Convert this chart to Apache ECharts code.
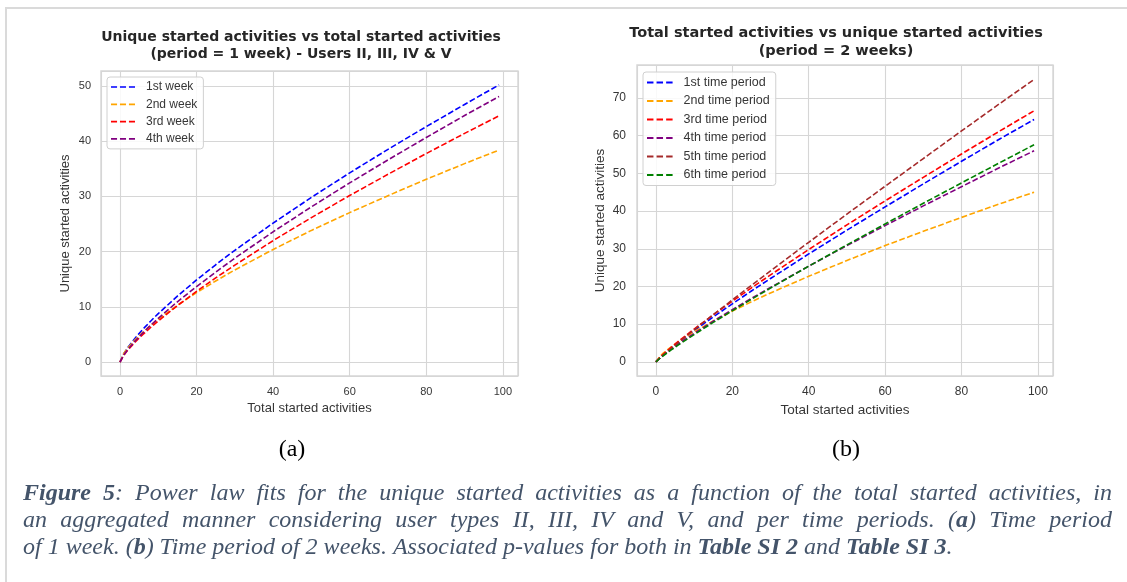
<!DOCTYPE html>
<html>
<head>
<meta charset="utf-8">
<script src="https://cdn.jsdelivr.net/npm/echarts@6/dist/echarts.min.js"></script>
<style>
html,body{margin:0;padding:0;background:#fff;}
#chart{width:1127px;height:582px;}
</style>
</head>
<body>
<div id="chart"></div>
<script>
// ---------- DATA ----------
const xValues = [0, 1, 2, 4, 6, 8, 10, 15, 20, 25, 30, 40, 50, 60, 70, 80, 90, 99];

// (a) period = 1 week
const weekNames = ['1st week', '2nd week', '3rd week', '4th week'];
const week1 = [0, 1.53, 2.58, 4.38, 5.96, 7.41, 8.78, 11.95, 14.88, 17.63, 20.24, 25.18, 29.83, 34.27, 38.53, 42.64, 46.65, 50.2];
const week2 = [0, 1.55, 2.52, 4.09, 5.43, 6.63, 7.75, 10.29, 12.58, 14.70, 16.69, 20.40, 23.85, 27.07, 30.13, 33.10, 35.94, 38.4];
const week3 = [0, 1.24, 2.13, 3.65, 5.01, 6.27, 7.46, 10.23, 12.81, 15.25, 17.57, 22.00, 26.17, 30.17, 34.01, 37.77, 41.41, 44.6];
const week4 = [0, 1.30, 2.24, 3.86, 5.31, 6.66, 7.94, 10.92, 13.69, 16.30, 18.82, 23.60, 28.12, 32.45, 36.62, 40.68, 44.65, 48.1];

// (b) period = 2 weeks
const periodNames = ['1st time period', '2nd time period', '3rd time period', '4th time period', '5th time period', '6th time period'];
const period1 = [0, 1.06, 1.97, 3.65, 5.25, 6.79, 8.29, 11.91, 15.40, 18.81, 22.12, 28.63, 34.94, 41.11, 47.20, 53.21, 59.12, 64.3];
const period2 = [0, 1.40, 2.37, 3.99, 5.42, 6.74, 7.98, 10.84, 13.46, 15.93, 18.28, 22.71, 26.89, 30.84, 34.63, 38.32, 41.92, 45.0];
const period3 = [0, 1.13, 2.08, 3.86, 5.53, 7.13, 8.70, 12.47, 16.10, 19.62, 23.07, 29.80, 36.33, 42.70, 48.95, 55.14, 61.23, 66.6];
const period4 = [0, 1.01, 1.86, 3.40, 4.84, 6.23, 7.57, 10.78, 13.87, 16.84, 19.74, 25.40, 30.85, 36.15, 41.37, 46.47, 51.55, 56.0];
const period5 = [0, 0.96, 1.85, 3.56, 5.24, 6.88, 8.52, 12.51, 16.43, 20.31, 24.15, 31.72, 39.20, 46.58, 53.93, 61.25, 68.5, 74.9];
const period6 = [0, 0.90, 1.69, 3.16, 4.57, 5.92, 7.25, 10.46, 13.56, 16.60, 19.57, 25.38, 31.03, 36.59, 42.06, 47.47, 52.82, 57.6];

const xTickLabels = [0, 20, 40, 60, 80, 100];
const yTickLabelsA = [0, 10, 20, 30, 40, 50];
const yTickLabelsB = [0, 10, 20, 30, 40, 50, 60, 70];

const weekColors = ['#0000ff', '#ffa500', '#ff0000', '#800080'];
const periodColors = ['#0000ff', '#ffa500', '#ff0000', '#800080', '#a52a2a', '#008000'];

// ---------- STYLE ----------
const SANS = '"Liberation Sans", Arial, sans-serif';
const GRIDC = '#d6d6d6';
const TXT = '#363636';
const DASH = [5.8, 2.5];
const dashIcon = 'path://M0,0h6v1.7h-6z M8.9,0h6v1.7h-6z M17.8,0h6v1.7h-6z';

function pairs(ys) { return xValues.map((x, i) => [x, ys[i]]); }
function tickFmt(list) {
  return v => list.some(t => Math.abs(t - v) < 1e-6) ? String(Math.round(v)) : '';
}

function mkSeries(name, ys, color, gi) {
  return {
    name, type: 'line', xAxisIndex: gi, yAxisIndex: gi,
    data: pairs(ys), showSymbol: false, symbol: 'none',
    smooth: false,
    lineStyle: { color, width: 1.6, type: DASH, join: 'round' },
    itemStyle: { color },
    emphasis: { disabled: true }, silent: true, animation: false
  };
}

const series = [];
[week1, week2, week3, week4].forEach((ys, i) => series.push(mkSeries(weekNames[i], ys, weekColors[i], 0)));
[period1, period2, period3, period4, period5, period6].forEach((ys, i) => series.push(mkSeries(periodNames[i], ys, periodColors[i], 1)));

function xAxisCfg(gi, fs, nameFs, gap) {
  return {
    gridIndex: gi, type: 'value', min: -4.95, max: 103.95,
    splitNumber: 5, minInterval: 20, maxInterval: 20,
    axisLine: { show: false }, axisTick: { show: false },
    splitLine: { show: true, lineStyle: { color: GRIDC, width: 1.1 } },
    axisLabel: { fontSize: fs, color: TXT, fontFamily: SANS, margin: 10, formatter: tickFmt(xTickLabels) },
    name: 'Total started activities', nameLocation: 'middle', nameGap: gap,
    nameTextStyle: { fontSize: nameFs, color: TXT, fontFamily: SANS }
  };
}
function yAxisCfg(gi, min, max, ticks, fs, nameFs, gap, margin) {
  return {
    gridIndex: gi, type: 'value', min, max,
    splitNumber: 8, minInterval: 10, maxInterval: 10,
    axisLine: { show: false }, axisTick: { show: false },
    splitLine: { show: true, lineStyle: { color: GRIDC, width: 1.1 } },
    axisLabel: { fontSize: fs, color: TXT, fontFamily: SANS, margin, formatter: tickFmt(ticks) },
    name: 'Unique started activities', nameLocation: 'middle', nameGap: gap, nameRotate: 90,
    nameTextStyle: { fontSize: nameFs, color: TXT, fontFamily: SANS }
  };
}

function legendCfg(names, left, top, fs, lh, gap, iw, pad) {
  return {
    data: names.map(n => ({ name: n, icon: dashIcon })),
    orient: 'vertical', left, top, selectedMode: false,
    itemWidth: iw, itemHeight: 8, itemGap: gap,
    padding: pad,
    backgroundColor: 'rgba(255,255,255,0.85)', borderColor: '#d0d0d0', borderWidth: 1, borderRadius: 3,
    itemStyle: { borderWidth: 0 },
    textStyle: { fontSize: fs, color: TXT, fontFamily: SANS, lineHeight: lh, padding: [0, 0, 0, 6] }
  };
}

// ---------- CAPTION LAYOUT ----------
const CAPC = '#44546a';
const SERIF = '"Liberation Serif", "Times New Roman", serif';
const capFs = 24;
const capLines = [
  { y: 494, justify: true, segs: [['Figure 5', 'b'], [': Power law fits for the unique started activities as a function of the total started activities, in', 'i']] },
  { y: 521, justify: true, segs: [['an aggregated manner considering user types II, III, IV and V, and per time periods. (', 'i'], ['a', 'b'], [') Time period', 'i']] },
  { y: 548, justify: false, segs: [['of 1 week. (', 'i'], ['b', 'b'], [') Time period of 2 weeks. Associated p-values for both in ', 'i'], ['Table SI 2', 'b'], [' and ', 'i'], ['Table SI 3', 'b'], ['.', 'i']] }
];
const mctx = document.createElement('canvas').getContext('2d');
function fontOf(s) { return (s === 'b' ? 'italic bold ' : 'italic ') + capFs + 'px ' + SERIF; }
function measure(t, s) { mctx.font = fontOf(s); return mctx.measureText(t).width; }
function layoutCaption(x0, x1) {
  const els = [];
  capLines.forEach(line => {
    const words = [[]];
    line.segs.forEach(([t, s]) => {
      t.split(' ').forEach((p, k) => {
        if (k > 0) words.push([]);
        if (p) words[words.length - 1].push({ t: p, s });
      });
    });
    const ws = words.filter(w => w.length);
    const widths = ws.map(w => w.reduce((a, p) => a + measure(p.t, p.s), 0));
    const total = widths.reduce((a, b) => a + b, 0);
    const natural = measure(' ', 'i');
    const sp = line.justify ? Math.max(natural * 0.8, (x1 - x0 - total) / (ws.length - 1)) : natural;
    let x = x0;
    ws.forEach((w) => {
      w.forEach(p => {
        els.push({ type: 'text', x, y: line.y, silent: true,
          style: { text: p.t, font: fontOf(p.s), fill: CAPC, textVerticalAlign: 'middle' } });
        x += measure(p.t, p.s);
      });
      x += sp;
    });
  });
  return els;
}

const graphics = [
  { type: 'line', silent: true, shape: { x1: 5, y1: 8, x2: 1127, y2: 8 }, style: { stroke: '#dadada', lineWidth: 2 } },
  { type: 'line', silent: true, shape: { x1: 6, y1: 8, x2: 6, y2: 582 }, style: { stroke: '#dadada', lineWidth: 2 } },
  { type: 'text', x: 301, y: 46, silent: true,
    style: { text: 'Unique started activities vs total started activities\n(period = 1 week) - Users II, III, IV & V',
      font: 'bold 14px "DejaVu Sans", sans-serif', fill: '#262626', textAlign: 'center', textVerticalAlign: 'middle', lineHeight: 17.7 } },
  { type: 'text', x: 836, y: 42.5, silent: true,
    style: { text: 'Total started activities vs unique started activities\n(period = 2 weeks)',
      font: 'bold 14.5px "DejaVu Sans", sans-serif', fill: '#262626', textAlign: 'center', textVerticalAlign: 'middle', lineHeight: 18.4 } },
  { type: 'text', x: 292, y: 450, silent: true,
    style: { text: '(a)', font: '24px ' + SERIF, fill: '#000', textAlign: 'center', textVerticalAlign: 'middle' } },
  { type: 'text', x: 846, y: 450, silent: true,
    style: { text: '(b)', font: '24px ' + SERIF, fill: '#000', textAlign: 'center', textVerticalAlign: 'middle' } }
].concat(layoutCaption(23, 1112));

const option = {
  animation: false,
  backgroundColor: '#ffffff',
  grid: [
    { left: 101, top: 71, width: 417, height: 305, show: true, borderColor: GRIDC, borderWidth: 1.4, backgroundColor: 'transparent', containLabel: false },
    { left: 637, top: 65, width: 416, height: 311, show: true, borderColor: GRIDC, borderWidth: 1.4, backgroundColor: 'transparent', containLabel: false }
  ],
  xAxis: [ xAxisCfg(0, 11, 13, 24), xAxisCfg(1, 12, 13.5, 24) ],
  yAxis: [ yAxisCfg(0, -2.51, 52.71, yTickLabelsA, 11, 13, 29, 10), yAxisCfg(1, -3.745, 78.745, yTickLabelsB, 12, 13.5, 30, 11) ],
  legend: [
    legendCfg(weekNames, 107, 77, 12, 12, 5.3, 24, [4, 6, 4, 4]),
    legendCfg(periodNames, 643, 72, 12.5, 12.5, 5.5, 25.6, [4, 6, 4, 4])
  ],
  series,
  graphic: graphics
};

const chart = echarts.init(document.getElementById('chart'), null, { renderer: 'canvas' });
chart.setOption(option);
</script>
</body>
</html>
